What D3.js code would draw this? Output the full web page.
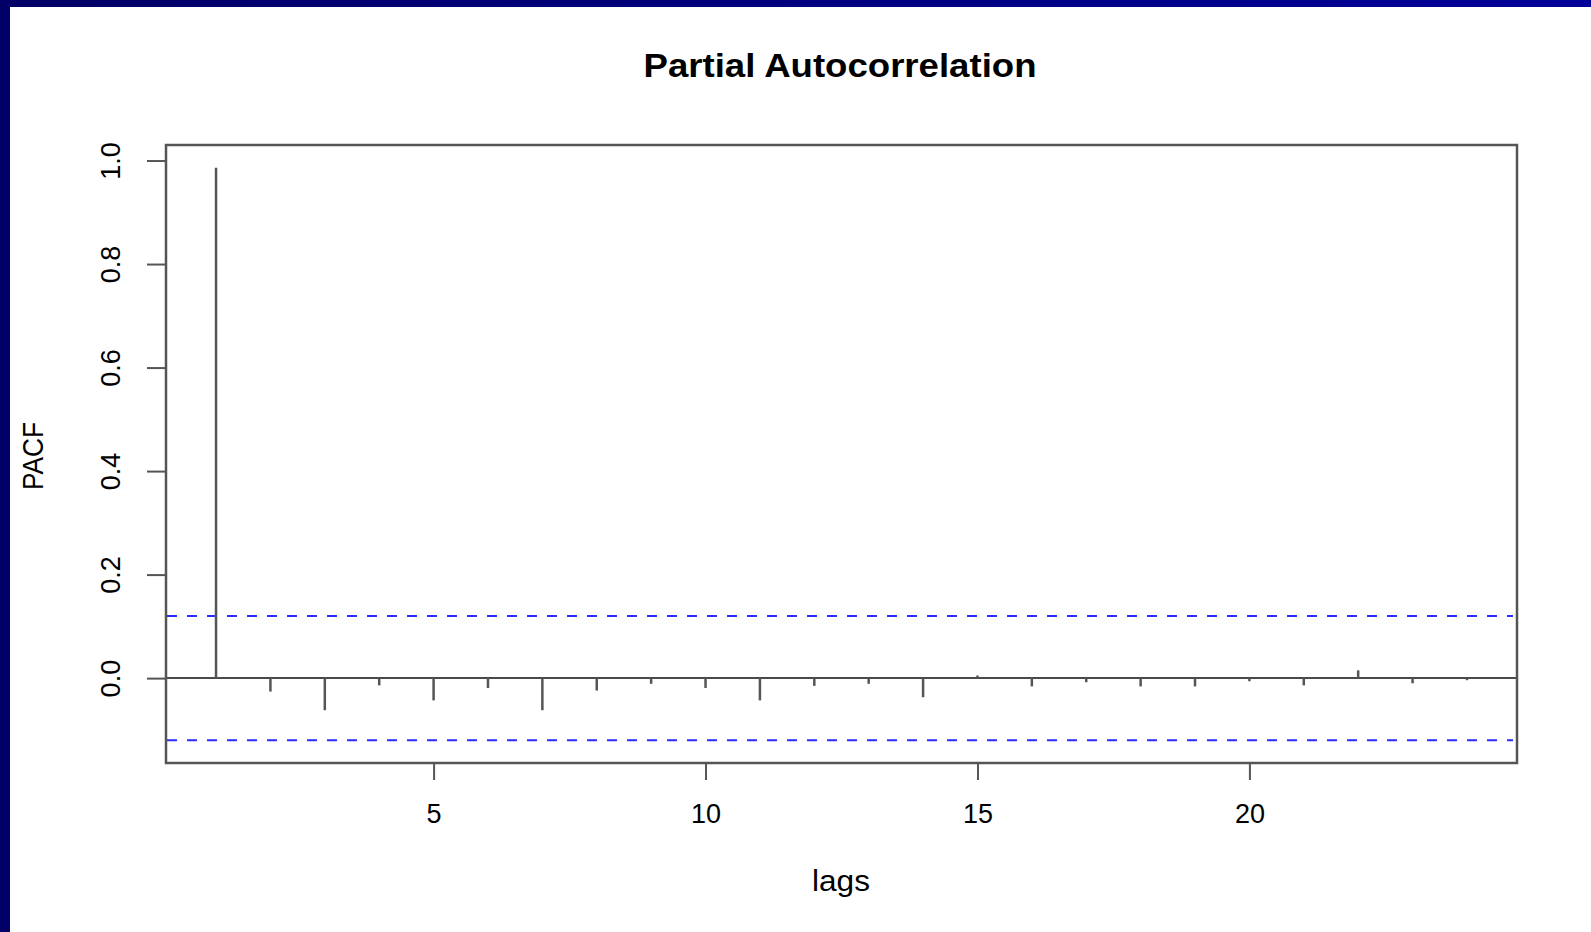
<!DOCTYPE html>
<html>
<head>
<meta charset="utf-8">
<script src="https://cdn.jsdelivr.net/npm/d3@7/dist/d3.min.js"></script>
<style>
  html, body { margin: 0; padding: 0; background: #fff; }
  svg { display: block; }
  text { font-family: "Liberation Sans", Arial, Helvetica, sans-serif; fill: #000; }
</style>
</head>
<body>
<svg id="chart" width="1591" height="932"></svg>
<script>
// ---- data ----
const lags = [1,2,3,4,5,6,7,8,9,10,11,12,13,14,15,16,17,18,19,20,21,22,23,24];
const pacfValues = [0.986, -0.026, -0.062, -0.014, -0.043, -0.019, -0.062, -0.024,
                    -0.011, -0.019, -0.043, -0.015, -0.011, -0.037, 0.005, -0.016,
                    -0.008, -0.016, -0.016, -0.006, -0.014, 0.015, -0.010, -0.004];
const confLimit = 0.12;
const xTickValues = [5, 10, 15, 20];
const yTickValues = [0.0, 0.2, 0.4, 0.6, 0.8, 1.0];
const titleText = "Partial Autocorrelation";
const xLabel = "lags";
const yLabel = "PACF";

// ---- layout ----
const svg = d3.select("#chart");
const W = 1591, H = 932;
const frame = {left: 166, right: 1517, top: 145, bottom: 763};

// navy border (left and top)
const defs = svg.append("defs");
const grad = defs.append("linearGradient").attr("id", "topgrad")
  .attr("x1", "0%").attr("x2", "100%").attr("y1", "0%").attr("y2", "0%");
grad.append("stop").attr("offset", "0%").attr("stop-color", "#000066");
grad.append("stop").attr("offset", "100%").attr("stop-color", "#000099");
svg.append("rect").attr("x", 0).attr("y", 0).attr("width", W).attr("height", 7).attr("fill", "url(#topgrad)");
svg.append("rect").attr("x", 0).attr("y", 0).attr("width", 10).attr("height", H).attr("fill", "#000066");

// scales (R style 4% extension)
const xr = [0.08, 24.92];
const yr = [-0.164, 1.030];
const x = d3.scaleLinear().domain(xr).range([frame.left, frame.right]);
const y = d3.scaleLinear().domain(yr).range([frame.bottom, frame.top]);

const g = svg.append("g");

// confidence lines
[confLimit, -confLimit].forEach(c => {
  g.append("line")
    .attr("x1", frame.left + 1).attr("x2", frame.right - 4)
    .attr("y1", y(c)).attr("y2", y(c))
    .attr("stroke", "#2b2bff").attr("stroke-width", 2)
    .attr("stroke-dasharray", "10,10");
});

// zero line
g.append("line")
  .attr("x1", frame.left).attr("x2", frame.right)
  .attr("y1", y(0)).attr("y2", y(0))
  .attr("stroke", "#4a4a4a").attr("stroke-width", 2);

// spikes
g.selectAll("line.spike").data(lags.map((l, i) => ({lag: l, v: pacfValues[i]})))
  .enter().append("line").attr("class", "spike")
  .attr("x1", d => x(d.lag)).attr("x2", d => x(d.lag))
  .attr("y1", y(0)).attr("y2", d => y(d.v))
  .attr("stroke", "#555").attr("stroke-width", 2.5);

// frame
g.append("rect")
  .attr("x", frame.left).attr("y", frame.top)
  .attr("width", frame.right - frame.left).attr("height", frame.bottom - frame.top)
  .attr("fill", "none").attr("stroke", "#555").attr("stroke-width", 2.5);

// x axis
const xAxis = g.append("g").attr("transform", `translate(0,${frame.bottom})`)
  .call(d3.axisBottom(x).tickValues(xTickValues).tickSize(17).tickSizeOuter(0).tickPadding(0).tickFormat(d3.format("d")));
xAxis.select(".domain").remove();
xAxis.selectAll(".tick line").attr("stroke", "#555").attr("stroke-width", 2);
xAxis.selectAll(".tick text")
  .attr("y", 60).attr("dy", null)
  .style("font-size", "27px").style("font-family", "\"Liberation Sans\", Arial, sans-serif")
  .attr("fill", "#000");

// y axis
const yAxis = g.append("g").attr("transform", `translate(${frame.left},0)`)
  .call(d3.axisLeft(y).tickValues(yTickValues).tickSize(19).tickSizeOuter(0).tickFormat(d3.format(".1f")));
yAxis.select(".domain").remove();
yAxis.selectAll(".tick line").attr("stroke", "#555").attr("stroke-width", 2);
yAxis.selectAll(".tick text")
  .attr("x", null).attr("dy", null)
  .attr("text-anchor", "middle")
  .attr("transform", "translate(-46,0) rotate(-90)")
  .style("font-size", "27px").style("font-family", "\"Liberation Sans\", Arial, sans-serif")
  .attr("fill", "#000");

// title
svg.append("text")
  .attr("x", 840).attr("y", 77)
  .attr("text-anchor", "middle")
  .attr("textLength", 393).attr("lengthAdjust", "spacingAndGlyphs")
  .style("font-size", "33px").style("font-weight", "bold")
  .text(titleText);

// x label
svg.append("text")
  .attr("x", 841).attr("y", 891)
  .attr("text-anchor", "middle")
  .attr("textLength", 58).attr("lengthAdjust", "spacingAndGlyphs")
  .style("font-size", "29px")
  .text(xLabel);

// y label
svg.append("text")
  .attr("transform", "translate(43,456) rotate(-90)")
  .attr("text-anchor", "middle")
  .attr("textLength", 68).attr("lengthAdjust", "spacingAndGlyphs")
  .style("font-size", "29px")
  .text(yLabel);
</script>
</body>
</html>
